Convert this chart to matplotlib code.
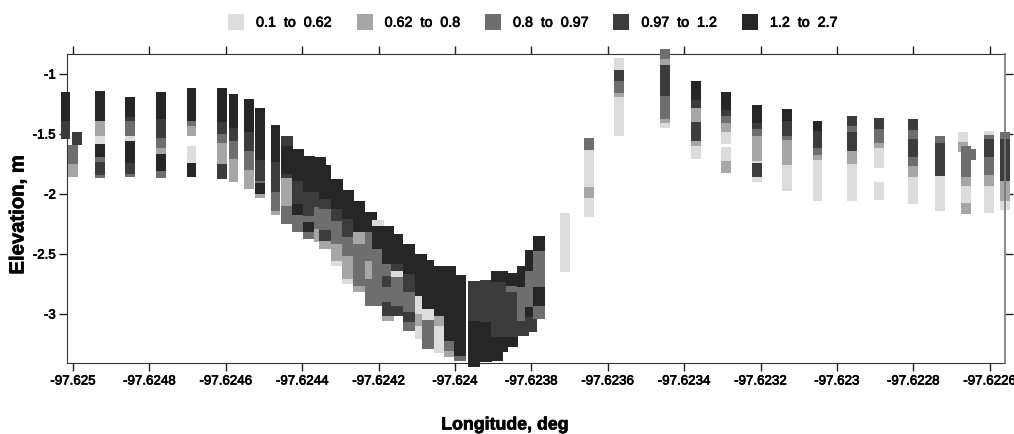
import matplotlib
matplotlib.use('Agg')
import matplotlib.pyplot as plt
import matplotlib.patheffects as pe
from matplotlib.patches import Patch

plt.rcParams['font.family'] = ['Liberation Sans', 'DejaVu Sans']

### class labels and greys
class_labels = ['0.1  to  0.62', '0.62  to  0.8', '0.8  to  0.97', '0.97  to  1.2', '1.2  to  2.7']
class_colors = ['#dcdcdc', '#a6a6a6', '#6e6e6e', '#3c3c3c', '#262626']

x_ticks = [-97.625, -97.6248, -97.6246, -97.6244, -97.6242, -97.624, -97.6238, -97.6236, -97.6234, -97.6232, -97.623, -97.6228, -97.6226]
x_tick_labels = ['-97.625', '-97.6248', '-97.6246', '-97.6244', '-97.6242', '-97.624', '-97.6238', '-97.6236', '-97.6234', '-97.6232', '-97.623', '-97.6228', '-97.6226']
y_ticks = [-1, -1.5, -2, -2.5, -3]
y_tick_labels = ['-1', '-1.5', '-2', '-2.5', '-3']

# each profile: longitude, top elevation, lower edge of each layer, class of each layer (1-5)
lon = [-97.62502, -97.625, -97.62499, -97.62493, -97.62485, -97.62477, -97.62469, -97.62469,
       -97.62461, -97.62458, -97.62454, -97.62451, -97.62447,
       -97.62444, -97.624411, -97.624382, -97.624354, -97.62434, -97.62431, -97.62428, -97.624251,
       -97.624219, -97.624201, -97.624175, -97.624152, -97.62412, -97.624089, -97.62407, -97.62404,
       -97.624014, -97.623986, -97.623951, -97.62392, -97.62389, -97.623877, -97.62385, -97.623822,
       -97.6238, -97.62378,
       -97.623711, -97.62365, -97.62357, -97.62345, -97.62337, -97.62329, -97.62329, -97.62321,
       -97.62313, -97.623051, -97.62296, -97.62289, -97.62289, -97.6228, -97.62273, -97.622671,
       -97.622661, -97.62265, -97.622602, -97.62256]
top = [-1.147, -1.592, -1.486, -1.139, -1.189, -1.147, -1.119, -1.597,
       -1.114, -1.167, -1.206, -1.286, -1.422,
       -1.519, -1.625, -1.68, -1.694, -1.758, -1.875, -1.964, -2.055,
       -2.152, -2.216, -2.264, -2.333, -2.416, -2.5, -2.547, -2.597,
       -2.602, -2.675, -2.722, -2.714, -2.639, -2.639, -2.658, -2.597,
       -2.463, -2.347,
       -2.158, -1.536, -0.869, -0.792, -1.061, -1.153, -1.611, -1.258,
       -1.292, -1.389, -1.347, -1.367, -1.903, -1.375, -1.519, -1.481,
       -1.597, -1.625, -1.472, -1.486]
bottoms = [
    [-1.389, -1.54], [-1.75, -1.856], [-1.592],
    [-1.389, -1.436, -1.52, -1.583, -1.694, -1.73, -1.842, -1.87],
    [-1.361, -1.389, -1.52, -1.556, -1.742, -1.833, -1.858],
    [-1.375, -1.444, -1.533, -1.62, -1.667, -1.806, -1.87],
    [-1.389, -1.43, -1.52], [-1.742, -1.858],
    [-1.403, -1.5, -1.575, -1.75, -1.875],
    [-1.453, -1.556, -1.708, -1.903],
    [-1.486, -1.639, -1.797, -1.958],
    [-1.714, -1.889, -1.908, -2.0, -2.033],
    [-1.736, -1.986, -2.139, -2.172],
    [-1.597, -1.833, -1.869, -2.097, -2.25],
    [-1.889, -2.083, -2.175, -2.319],
    [-1.986, -2.18, -2.236, -2.319, -2.375],
    [-1.986, -2.111, -2.291, -2.403],
    [-2.041, -2.125, -2.297, -2.389, -2.458],
    [-2.125, -2.222, -2.416, -2.555, -2.602],
    [-2.208, -2.361, -2.514, -2.708, -2.75],
    [-2.319, -2.416, -2.764, -2.819],
    [-2.319, -2.555, -2.708, -2.93],
    [-2.264, -2.458, -2.93],
    [-2.583, -2.68, -2.777, -2.902, -3.014, -3.055],
    [-2.583, -2.639, -2.694, -2.93, -3.014],
    [-2.666, -2.819, -2.986, -3.069, -3.139],
    [-2.847, -3.0, -3.097, -3.208],
    [-2.958, -3.047, -3.291],
    [-3.014, -3.097, -3.325],
    [-3.222, -3.305, -3.355],
    [-3.347, -3.389],
    [-3.055, -3.444],
    [-3.069, -3.402],
    [-2.736, -3.194, -3.389],
    [-2.736, -3.194, -3.319],
    [-2.764, -2.819, -3.194, -3.277],
    [-2.777, -3.055, -3.18],
    [-2.639, -2.944, -3.028, -3.153],
    [-2.472, -2.777, -2.93, -3.041],
    [-2.453, -2.653],
    [-1.631, -1.944, -2.036, -2.194],
    [-0.964, -1.056, -1.158, -1.194, -1.514],
    [-0.875, -0.925, -1.186, -1.375, -1.408, -1.447],
    [-1.214, -1.283, -1.403, -1.556, -1.597, -1.708],
    [-1.297, -1.347, -1.411, -1.48, -1.583], [-1.728, -1.825],
    [-1.411, -1.458, -1.519, -1.722, -1.744, -1.856, -1.897],
    [-1.389, -1.514, -1.55, -1.758, -1.975],
    [-1.472, -1.619, -1.675, -1.719, -2.061],
    [-1.431, -1.486, -1.639, -1.75, -2.056],
    [-1.458, -1.575, -1.617, -1.783], [-2.047],
    [-1.464, -1.542, -1.694, -1.764, -1.861, -2.083],
    [-1.578, -1.847, -2.144],
    [-1.569, -1.653],
    [-1.861, -1.931, -2.075, -2.164],
    [-1.717],
    [-1.506, -1.542, -1.694, -1.842, -1.931, -2.161],
    [-1.542, -1.889, -2.056, -2.131],
]
classes = [
    [5, 4], [3, 2], [4],
    [5, 2, 2, 1, 5, 3, 4, 3],
    [5, 4, 3, 1, 5, 4, 3],
    [5, 4, 4, 3, 2, 5, 3],
    [5, 3, 2], [1, 5],
    [5, 4, 3, 2, 4],
    [5, 4, 3, 2],
    [5, 4, 3, 2],
    [5, 4, 3, 5, 2],
    [5, 4, 3, 2],
    [4, 5, 4, 2, 3],
    [5, 4, 5, 3],
    [5, 4, 3, 5, 3],
    [5, 4, 3, 2],
    [5, 4, 3, 4, 2],
    [5, 4, 3, 2, 1],
    [5, 4, 3, 2, 1],
    [5, 2, 3, 2],
    [5, 3, 2, 3],
    [1, 5, 3],
    [5, 3, 4, 3, 4, 2],
    [5, 4, 1, 3, 4],
    [5, 4, 3, 4, 3],
    [5, 1, 2, 1],
    [5, 1, 3],
    [5, 2, 1],
    [5, 3, 2],
    [5, 3],
    [4, 5],
    [4, 5],
    [5, 4, 5],
    [5, 4, 5],
    [5, 3, 4, 5],
    [5, 3, 4],
    [5, 3, 5, 4],
    [5, 3, 5, 3],
    [1, 1],
    [3, 1, 2, 1],
    [1, 4, 3, 2, 1],
    [3, 2, 4, 3, 2, 1],
    [5, 4, 2, 4, 2, 1],
    [5, 4, 3, 2, 1], [1, 2],
    [5, 4, 3, 2, 1, 4, 1],
    [5, 4, 3, 2, 1],
    [5, 4, 3, 2, 1],
    [4, 3, 4, 2, 1],
    [4, 3, 2, 1], [1],
    [4, 3, 4, 3, 2, 1],
    [3, 4, 1],
    [1, 2],
    [3, 2, 1, 2],
    [3],
    [1, 3, 4, 3, 2, 1],
    [3, 4, 2, 1],
]

heavy = [pe.withStroke(linewidth=0.5, foreground='black')]

fig = plt.figure(figsize=(10.14, 4.35), dpi=100)
ax = fig.add_axes([67 / 1014, 71 / 435, 938 / 1014, 309 / 435])

# stacked layers of every profile, the close ones in the trench touch each other
for i in range(len(lon)):
    w = 2.6e-5
    if -97.62447 < lon[i] < -97.62375:
        w = 3.1e-5
    upper = top[i]
    for low, c in zip(bottoms[i], classes[i]):
        ax.bar(lon[i], low - upper, bottom=upper, width=w, color=class_colors[c - 1],
               linewidth=0, zorder=3, clip_on=False)
        upper = low

ax.set_xlim(-97.625016, -97.62256)
ax.set_ylim(-3.408, -0.833)
ax.ticklabel_format(useOffset=False)
ax.set_xticks(x_ticks)
ax.set_xticklabels(x_tick_labels)
ax.set_yticks(y_ticks)
ax.set_yticklabels(y_tick_labels)
ax.tick_params(axis='both', top=True, right=True, direction='out', length=6, width=1, colors='#222222', labelsize=9.6, labelcolor='black')
ax.tick_params(axis='x', pad=3)
ax.tick_params(axis='y', pad=2)
for label in ax.get_xticklabels() + ax.get_yticklabels():
    label.set_path_effects(heavy)
for side in ['left', 'top', 'bottom']:
    ax.spines[side].set_color('#333333')
ax.spines['right'].set_color('#777777')
ax.spines['right'].set_zorder(5)
ax.spines['right'].set_linewidth(1.2)

fig.text(505 / 1014, 9 / 435, 'Longitude, deg', ha='center', va='center', fontsize=12.8, fontweight='bold', path_effects=heavy)
fig.text(18 / 1014, 219 / 435, 'Elevation, m', ha='center', va='center', rotation=90, fontsize=14.6, fontweight='bold', path_effects=heavy)

handles = [Patch(facecolor=class_colors[i], edgecolor='none', label=class_labels[i]) for i in range(5)]
leg = fig.legend(handles=handles, loc='upper left', bbox_to_anchor=(228 / 1014, 1 - 14.5 / 435), ncol=5, frameon=False,
                 borderpad=0, borderaxespad=0, fontsize=10.3, handlelength=1.12, handleheight=1.45,
                 handletextpad=0.84, columnspacing=1.75)
for t in leg.get_texts():
    t.set_path_effects(heavy)

fig.savefig('out.png', dpi=100)
